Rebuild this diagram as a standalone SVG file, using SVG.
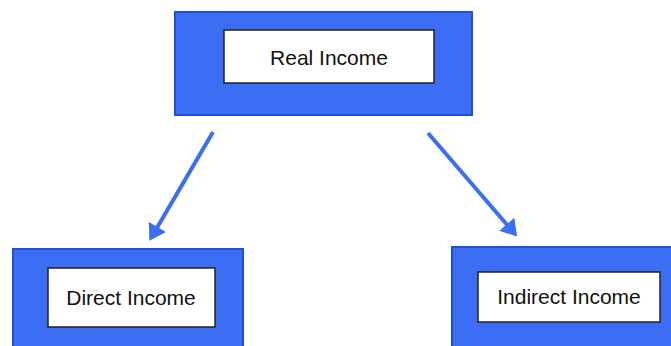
<svg xmlns="http://www.w3.org/2000/svg" width="671" height="346" viewBox="0 0 671 346">
<style>
.outer{fill:#3b6ef5;stroke:#1f4fd6;stroke-width:2}
.inner{fill:#ffffff;stroke:#222222;stroke-width:1.5}
.lbl{font-family:"Liberation Sans",Arial,sans-serif;font-size:21px;fill:#111111;text-anchor:middle}
.conn{stroke:#3b6ef0;stroke-width:4;fill:none;marker-end:url(#ah)}
</style>
<defs>
<marker id="ah" markerWidth="5" markerHeight="5" refX="3.2" refY="2.5" orient="auto" markerUnits="strokeWidth">
<path d="M0,0 L4,2.5 L0,5 Z" fill="#3b6ef0"/>
</marker>
</defs>
<rect width="671" height="346" fill="#ffffff"/>
<g id="real-income">
<rect class="outer" x="175" y="12" width="297" height="103"/>
<rect class="inner" x="224" y="30" width="210" height="53"/>
<text class="lbl" x="329" y="65">Real Income</text>
</g>
<g id="direct-income">
<rect class="outer" x="13" y="249" width="230" height="100"/>
<rect class="inner" x="48" y="268" width="167" height="59"/>
<text class="lbl" x="131" y="305">Direct Income</text>
</g>
<g id="indirect-income">
<rect class="outer" x="452" y="247" width="225" height="102"/>
<rect class="inner" x="478" y="272" width="182" height="50"/>
<text class="lbl" x="569" y="304">Indirect Income</text>
</g>
<g id="connectors">
<line class="conn" x1="213" y1="132" x2="151" y2="238"/>
<line class="conn" x1="428" y1="133" x2="515" y2="234"/>
</g>
</svg>
